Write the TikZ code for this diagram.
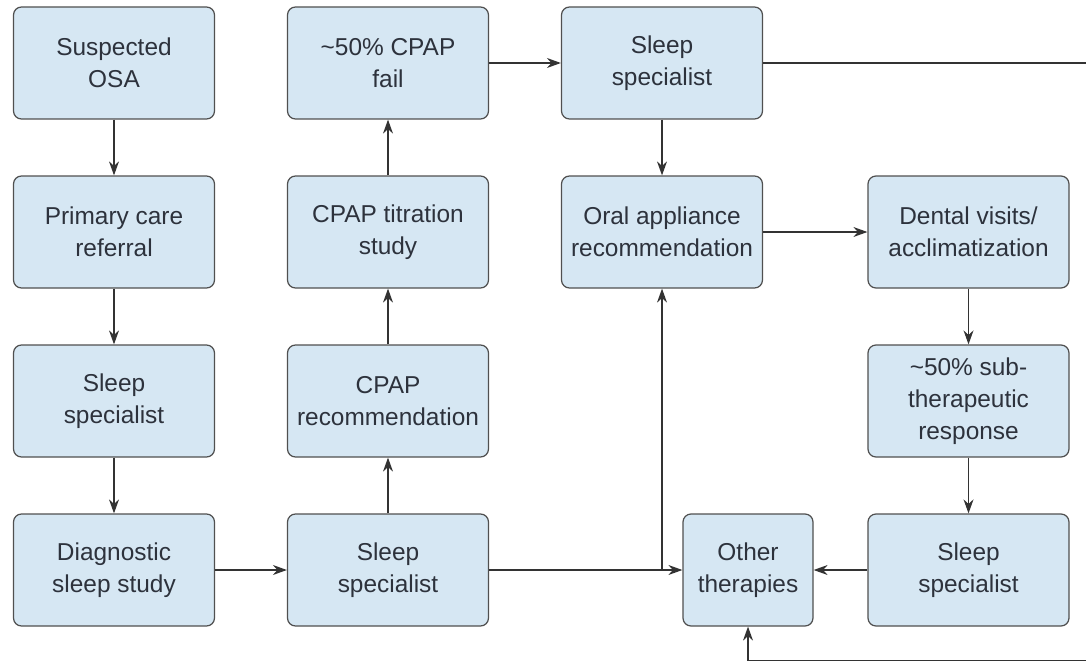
\documentclass[tikz,border=0pt]{standalone}
\usepackage{fontspec}
\setmainfont{Liberation Sans}
\usepackage{xcolor}
\usepackage{tikz}
\usetikzlibrary{arrows.meta}
\definecolor{boxfill}{RGB}{214,231,243}
\definecolor{boxline}{RGB}{80,80,80}
\definecolor{boxtext}{RGB}{45,50,60}

\begin{document}
\begin{tikzpicture}[
  box/.style={draw=boxline, fill=boxfill, rounded corners=0.16cm, line width=0.7pt,
    minimum width=4.02cm, minimum height=2.24cm, inner sep=0pt, align=center,
    text=boxtext, font=\fontsize{13.9}{18.2}\selectfont},
  link/.style={draw=black!80, line width=0.7pt, -{Stealth[length=0.28cm,width=0.2cm]}},
  plain/.style={draw=black!80, line width=0.7pt}
]
\useasboundingbox (0,0) rectangle (21.72,13.24);
% Column 1
\node[box] (osa) at (2.28,11.98) {Suspected\\OSA};
\node[box] (primary) at (2.28,8.60) {Primary care\\referral};
\node[box] (sleepA) at (2.28,5.22) {Sleep\\specialist};
\node[box] (diag) at (2.28,1.84) {Diagnostic\\sleep study};
% Column 2
\node[box] (fail) at (7.76,11.98) {\textasciitilde50\% CPAP\\fail};
\node[box] (titration) at (7.76,8.60) {CPAP titration\\study};
\node[box] (cpaprec) at (7.76,5.22) {CPAP\\recommendation};
\node[box] (sleepB) at (7.76,1.84) {Sleep\\specialist};
% Column 3
\node[box] (sleepC) at (13.24,11.98) {Sleep\\specialist};
\node[box] (oral) at (13.24,8.60) {Oral appliance\\recommendation};
\node[box, minimum width=2.6cm] (other) at (14.96,1.84) {Other\\therapies};
% Column 4
\node[box] (dental) at (19.37,8.60) {Dental visits/\\acclimatization};
\node[box] (subther) at (19.37,5.22) {\textasciitilde50\% sub-\\therapeutic\\response};
\node[box] (sleepD) at (19.37,1.84) {Sleep\\specialist};
% Connectors
\draw[link] (osa) -- (primary);
\draw[link] (primary) -- (sleepA);
\draw[link] (sleepA) -- (diag);
\draw[link] (diag) -- (sleepB);
\draw[link] (sleepB) -- (cpaprec);
\draw[link] (cpaprec) -- (titration);
\draw[link] (titration) -- (fail);
\draw[link] (fail) -- (sleepC);
\draw[link] (sleepC) -- (oral);
\draw[link] (oral) -- (dental);
\draw[link] (dental) -- (subther);
\draw[link] (subther) -- (sleepD);
\draw[link] (sleepD) -- (other);
\draw[link] (sleepB) -- (other);
\coordinate (split) at (oral.south |- sleepB.east);
\draw[link] (split) -- (oral);
% Loop back past the right edge
\coordinate (topend) at (21.72,11.98);
\coordinate (botend) at (21.72,0.03);
\draw[plain] (sleepC) -- (topend);
\draw[link] (botend) -| (other);
\end{tikzpicture}
\end{document}
